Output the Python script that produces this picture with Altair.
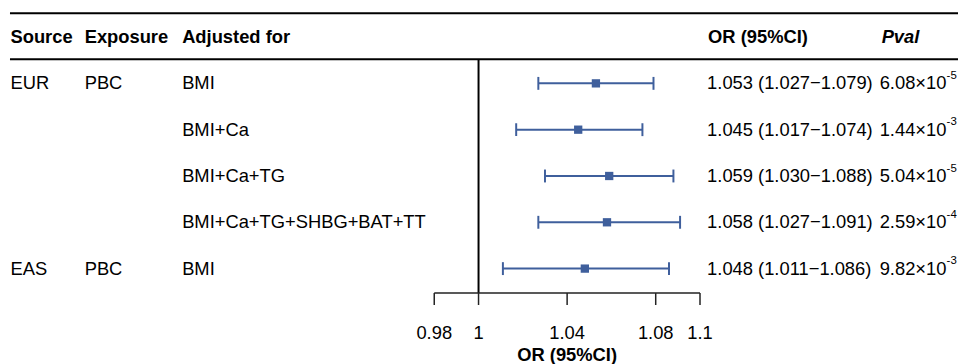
import altair as alt
import pandas as pd

# ---- data -------------------------------------------------------------
source = ["EUR", "", "", "", "EAS"]
exposure = ["PBC", "", "", "", "PBC"]
adjusted = ["BMI", "BMI+Ca", "BMI+Ca+TG", "BMI+Ca+TG+SHBG+BAT+TT", "BMI"]
or_est = [1.053, 1.045, 1.059, 1.058, 1.048]
ci_lo = [1.027, 1.017, 1.030, 1.027, 1.011]
ci_hi = [1.079, 1.074, 1.088, 1.091, 1.086]
p_mant = ["6.08", "1.44", "5.04", "2.59", "9.82"]
p_exp = ["-5", "-3", "-5", "-4", "-3"]
tick_vals = [0.98, 1, 1.04, 1.08, 1.1]
tick_labels = ["0.98", "1", "1.04", "1.08", "1.1"]
header_labels = ["Source", "Exposure", "Adjusted for", "OR (95%CI)"]
pval_header = "Pval"
axis_title = "OR (95%CI)"

rows = list(range(len(adjusted)))
df = pd.DataFrame({
    "row": rows,
    "source": source,
    "exposure": exposure,
    "adjusted": adjusted,
    "or": or_est,
    "lo": ci_lo,
    "hi": ci_hi,
    "ortext": [f"{o:.3f} ({l:.3f}\u2212{h:.3f})" for o, l, h in zip(or_est, ci_lo, ci_hi)],
    "pbase": [m + "\u00d710" for m in p_mant],
    "pexp": p_exp,
})
ticks_df = pd.DataFrame({"v": tick_vals, "lab": tick_labels})

# ---- layout -----------------------------------------------------------
W, H = 958, 356
FONT = "Liberation Sans"
FS = 18.5
BLUE = "#3f5f9c"
ppu = 2233.3          # pixels per OR unit
x_one = 474.5         # pixel of OR = 1
x0 = 1 - x_one / ppu
x1 = x0 + W / ppu
row_step = 46.7
row0 = 74.5
y_top = -row0 / row_step
y_bot = y_top + H / row_step

xs = alt.Scale(domain=[x0, x1], zero=False, nice=False)
ys = alt.Scale(domain=[y_top, y_bot], zero=False, nice=False, reverse=True)

one = alt.Data(values=[{}])

def txt(**kw):
    base = dict(font=FONT, fontSize=FS, baseline="middle", align="left", color="#000")
    base.update(kw)
    return alt.Chart(df).mark_text(**base)

Y = alt.Y("row:Q", scale=ys, axis=None)

layers = []

# horizontal header rules
for yv in (3.7, 50.3):
    layers.append(
        alt.Chart(one).mark_rule(color="#000", strokeWidth=2).encode(
            x=alt.value(2), x2=alt.value(W), y=alt.value(yv)
        )
    )

# header text
head_x = [2.5, 77.3, 175.6, 706]
for lab, hx in zip(header_labels, head_x):
    layers.append(
        alt.Chart(one).mark_text(font=FONT, fontSize=FS, fontWeight="bold", baseline="middle",
                                 align="left", color="#000").encode(
            x=alt.value(hx), y=alt.Y(datum=-1, scale=ys, axis=None), text=alt.value(lab)
        )
    )
layers.append(
    alt.Chart(one).mark_text(font=FONT, fontSize=FS, fontWeight="bold", fontStyle="italic",
                             baseline="middle", align="left", color="#000").encode(
        x=alt.value(881), y=alt.Y(datum=-1, scale=ys, axis=None), text=alt.value(pval_header)
    )
)

# reference line at OR = 1
layers.append(
    alt.Chart(one).mark_rule(color="#000", strokeWidth=2).encode(
        x=alt.X(datum=1, scale=xs, axis=None), y=alt.value(50.3), y2=alt.value(286)
    )
)

# row texts
layers.append(txt(x=2.5).encode(y=Y, text="source:N"))
layers.append(txt(x=77.3).encode(y=Y, text="exposure:N"))
layers.append(txt(x=175.6).encode(y=Y, text="adjusted:N"))
layers.append(txt(x=705).encode(y=Y, text="ortext:N"))
layers.append(txt(x=879).encode(y=Y, text="pbase:N"))
layers.append(txt(x=946.5, fontSize=11.5, dy=-7.5).encode(y=Y, text="pexp:N"))

# error bars
layers.append(
    alt.Chart(df).mark_rule(color=BLUE, strokeWidth=2).encode(
        x=alt.X("lo:Q", scale=xs, axis=None), x2="hi:Q", y=Y
    )
)
for col in ("lo", "hi"):
    layers.append(
        alt.Chart(df).mark_tick(color=BLUE, orient="vertical", size=13, thickness=2, opacity=1).encode(
            x=alt.X(f"{col}:Q", scale=xs, axis=None), y=Y
        )
    )
layers.append(
    alt.Chart(df).mark_square(color=BLUE, size=70, opacity=1).encode(
        x=alt.X("or:Q", scale=xs, axis=None), y=Y
    )
)

# custom x axis
layers.append(
    alt.Chart(one).mark_rule(color="#222", strokeWidth=1.5).encode(
        x=alt.X(datum=tick_vals[0], scale=xs, axis=None), x2=alt.X2(datum=tick_vals[-1]),
        y=alt.value(286)
    )
)
layers.append(
    alt.Chart(ticks_df).mark_rule(color="#222", strokeWidth=1.5).encode(
        x=alt.X("v:Q", scale=xs, axis=None), y=alt.value(286), y2=alt.value(298)
    )
)
layers.append(
    alt.Chart(ticks_df).mark_text(font=FONT, fontSize=FS, baseline="middle", align="center",
                                  color="#000").encode(
        x=alt.X("v:Q", scale=xs, axis=None), y=alt.value(326), text="lab:N"
    )
)
layers.append(
    alt.Chart(one).mark_text(font=FONT, fontSize=FS, fontWeight="bold", baseline="middle",
                             align="center", color="#000").encode(
        x=alt.X(datum=(tick_vals[0] + tick_vals[-1]) / 2, scale=xs, axis=None),
        y=alt.value(348.5), text=alt.value(axis_title)
    )
)

chart = alt.layer(*layers).properties(
    width=W, height=H, padding=0, autosize=alt.AutoSizeParams(type="none"),
    background="white",
).configure_view(stroke=None)

chart.save("out.html", embed_options={"renderer": "svg", "actions": False})
